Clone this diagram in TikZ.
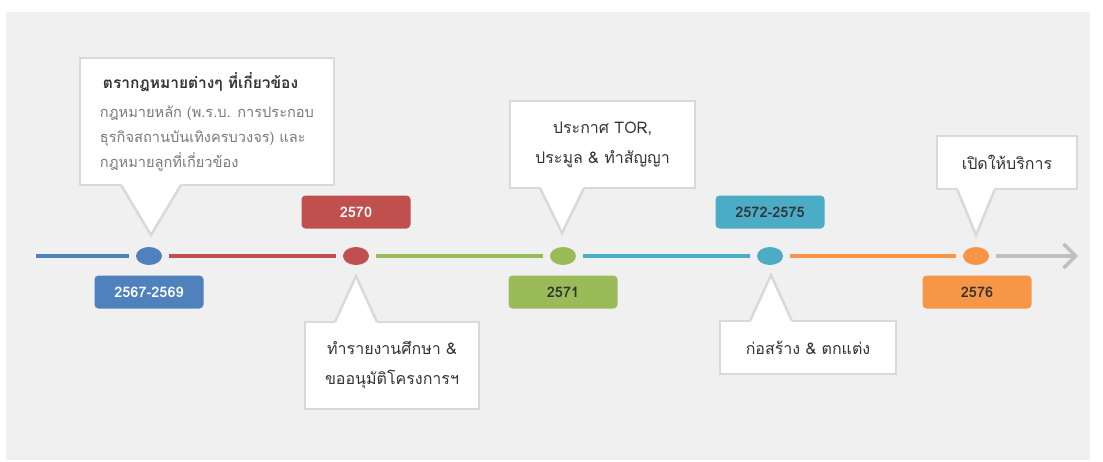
\documentclass[tikz,border=0pt]{standalone}
\usepackage{fontspec}
\newfontfamily\thaifont[Script=Thai]{Loma}
\usetikzlibrary{calc, shapes.geometric, arrows.meta}

\definecolor{bggray}{HTML}{F0F0F0}
\definecolor{boxgray}{HTML}{D9D9D9}
\definecolor{bodygray}{HTML}{7A7A7A}
\definecolor{textdark}{HTML}{333333}
\definecolor{tlblue}{HTML}{4F81BD}
\definecolor{tlred}{HTML}{C0504D}
\definecolor{tlgreen}{HTML}{9BBB59}
\definecolor{tlteal}{HTML}{4BACC6}
\definecolor{tlorange}{HTML}{F79646}
\definecolor{tlarrow}{HTML}{BFBFBF}

\begin{document}
\begin{tikzpicture}[x=1pt, y=-1pt,
	every node/.style={font=\thaifont},
	dot/.style={ellipse, minimum width=26, minimum height=18, inner sep=0, outer sep=0},
	seg/.style={line width=3.5, shorten <=7, shorten >=7},
	yearbox/.style={rounded corners=4, minimum width=109, minimum height=33, inner sep=0,
		font=\thaifont\fontsize{14.5}{16}\selectfont\bfseries},
	callbox/.style={draw=boxgray, line width=2.5, fill=white, inner sep=0, outer sep=0,
		text=textdark, font=\thaifont\fontsize{16}{30}\selectfont}]
	% \drawpointer#box#tip#side#halfwidth
	\def\drawpointer#1#2#3#4{
		\fill[white] ($(#2 |- #1.#3)+(-#4,0)$) -- (#2) -- ($(#2 |- #1.#3)+(#4,0)$) -- cycle;
		\draw[white, line width=3] ($(#2 |- #1.#3)+(-#4,0)$) -- ($(#2 |- #1.#3)+(#4,0)$);
		\draw[boxgray, line width=2.5, line join=miter]
			($(#2 |- #1.#3)+(-#4,0)$) -- (#2) -- ($(#2 |- #1.#3)+(#4,0)$);
	}
	
	\useasboundingbox (0,0) rectangle (1103,461);
	\fill[bggray] (6,12) rectangle (1090,460);
	
	% timeline
	\coordinate (start) at (36,256);
	\coordinate (end) at (1078,256);
	\node[dot, fill=tlblue] (d1) at (149,256) {};
	\node[dot, fill=tlred] (d2) at (356,256) {};
	\node[dot, fill=tlgreen] (d3) at (563,256) {};
	\node[dot, fill=tlteal] (d4) at (770,256) {};
	\node[dot, fill=tlorange] (d5) at (976,256) {};
	\draw[seg, tlblue, shorten <=0] (start) -- (d1);
	\draw[seg, tlred] (d1) -- (d2);
	\draw[seg, tlgreen] (d2) -- (d3);
	\draw[seg, tlteal] (d3) -- (d4);
	\draw[seg, tlorange] (d4) -- (d5);
	\draw[seg, tlarrow, shorten >=0, -{Straight Barb[length=12, width=24, line width=3.5]}] (d5) -- (end);
	
	% year boxes
	\node[yearbox, fill=tlblue, text=white] (y1) at (149,292) {2567-2569};
	\node[yearbox, fill=tlred, text=white] (y2) at (356,212) {2570};
	\node[yearbox, fill=tlgreen, text=textdark] (y3) at (563,292) {2571};
	\node[yearbox, fill=tlteal, text=textdark] (y4) at (770,212) {2572-2575};
	\node[yearbox, fill=tlorange, text=textdark] (y5) at (977,292) {2576};
	
	% callouts
	\node[callbox, minimum width=254, minimum height=127, align=left,
		font=\thaifont\fontsize{14.6}{25}\selectfont] (c1) at (207,121.5)
		{\hspace*{3pt}{\fontsize{15.5}{25}\selectfont\textbf{ตรากฎหมายต่างๆ ที่เกี่ยวข้อง}}\\[4pt]
		{\color{bodygray}กฎหมายหลัก (พ.ร.บ. การประกอบ}\\
		{\color{bodygray}ธุรกิจสถานบันเทิงครบวงจร) และ}\\
		{\color{bodygray}กฎหมายลูกที่เกี่ยวข้อง}};
	\node[callbox, minimum width=174, minimum height=87, align=center] (c2) at (392,365.5)
		{ทำรายงานศึกษา \&\\ขออนุมัติโครงการฯ};
	\node[callbox, minimum width=185, minimum height=87, align=center] (c3) at (602.5,144.5)
		{ประกาศ TOR,\\ประมูล \& ทำสัญญา};
	\node[callbox, minimum width=176, minimum height=53] (c4) at (808,347.5)
		{ก่อสร้าง \& ตกแต่ง};
	\node[callbox, minimum width=140, minimum height=53] (c5) at (1007,162.5)
		{เปิดให้บริการ};
	
	\coordinate (t1) at (151,235);
	\coordinate (t2) at (356,276);
	\coordinate (t3) at (562,233);
	\coordinate (t4) at (771,275);
	\coordinate (t5) at (976,235);
	\drawpointer{c1}{t1}{south}{30}
	\drawpointer{c2}{t2}{north}{21}
	\drawpointer{c3}{t3}{south}{22}
	\drawpointer{c4}{t4}{north}{21}
	\drawpointer{c5}{t5}{south}{19}
\end{tikzpicture}
\end{document}
